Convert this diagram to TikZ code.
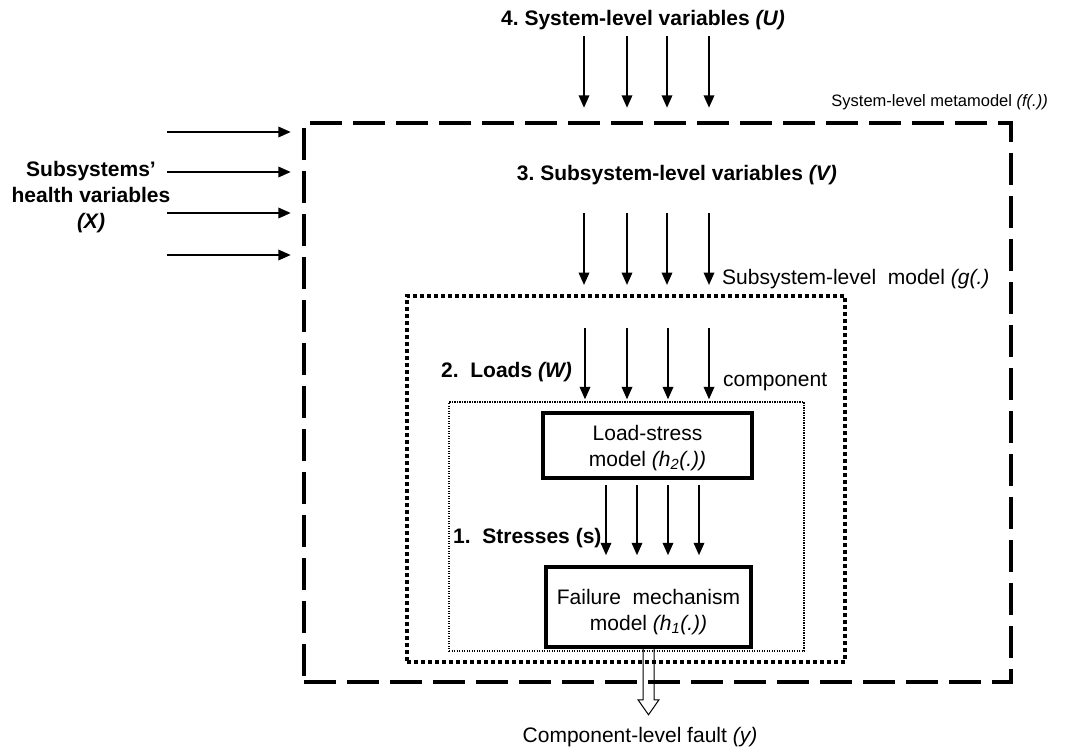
\documentclass[tikz,border=0pt]{standalone}
\usepackage{fontspec}
\setmainfont{Liberation Sans}
\usetikzlibrary{arrows.meta}
\frenchspacing
\begin{document}
\begin{tikzpicture}[x=1pt,y=-1pt,
  lbl/.style={font=\fontsize{21}{26}\selectfont, inner sep=0pt},
  small/.style={font=\fontsize{16.5}{20}\selectfont, inner sep=0pt},
  flow/.style={line width=2pt, -{Triangle[width=10.5pt,length=12.5pt]}},
  sysbox/.style={draw, line width=4.5pt, dash pattern=on 32pt off 11pt, inner sep=0pt},
  subbox/.style={draw, line width=4pt, dash pattern=on 4pt off 3pt, inner sep=0pt},
  compbox/.style={draw, line width=1.3pt, dash pattern=on 1.3pt off 1.2pt, inner sep=0pt},
  modelbox/.style={draw, line width=3.5pt, inner sep=0pt, align=center,
    font=\fontsize{21}{26}\selectfont},
  hollow/.style={line width=1pt, line join=miter}]
\useasboundingbox (0,0) rectangle (1067,748);

% nested model boundaries
\node[sysbox, minimum width=707pt, minimum height=559pt] (sys) at (657.5,402.5) {};
\node[subbox, minimum width=438pt, minimum height=366pt] (sub) at (626,479) {};
\node[compbox, minimum width=355pt, minimum height=249pt] (comp) at (626.5,526.5) {};

% component models (the struts set the first line a little lower)
\node[modelbox, minimum width=209pt, minimum height=65pt] (ls) at (647.5,445.5)
  {\rule{0pt}{19.5pt}Load-stress\\model \textit{(h\textsubscript{2}(.))}};
\node[modelbox, minimum width=205pt, minimum height=80pt] (fail) at (648.5,607)
  {\rule{0pt}{24.5pt}Failure\ \ mechanism\\model \textit{(h\textsubscript{1}(.))}};

% labels
\node[lbl, anchor=base] (tU) at (643,25) {\textbf{4. System-level variables \textit{(U)}}};
\node[small, anchor=base east] (tf) at (1048,106) {System-level metamodel \textit{(f(.))}};
\node[lbl, anchor=base east] (tV) at (837,180) {\textbf{3. Subsystem-level variables \textit{(V)}}};
\node[lbl, anchor=base west] (tg) at (722,284) {Subsystem-level\ \ model \textit{(g(.)}};
\node[lbl, anchor=base west] (tW) at (441,377) {\textbf{2.\ \ Loads \textit{(W)}}};
\node[lbl, anchor=base west] (tc) at (723,386) {component};
\node[lbl, anchor=base west] (ts) at (453,543) {\textbf{1.\ \ Stresses (s)}};
\node[lbl, anchor=base] (ty) at (640,742) {Component-level fault \textit{(y)}};
\node[lbl, align=center, anchor=center] (tX) at (91,197)
  {\textbf{Subsystems’}\\\textbf{health variables}\\\textbf{\textit{(X)}}};

% system-level variables U
\foreach \i/\x in {1/584,2/627,3/667,4/709}{
  \coordinate (u\i) at (\x,36);
  \draw[flow] (u\i) -- ([yshift=13pt]sys.north -| u\i);
}
% subsystem health variables X
\foreach \i/\y in {1/132,2/172,3/213,4/255}{
  \coordinate (x\i) at (167,\y);
  \draw[flow] (x\i) -- ([xshift=-11pt]sys.west |- x\i);
}
% subsystem-level variables V
\foreach \i/\x in {1/584,2/627,3/667,4/709}{
  \coordinate (v\i) at (\x,213);
  \draw[flow] (v\i) -- ([yshift=9pt]sub.north -| v\i);
}
% loads W
\foreach \i/\x in {1/585,2/627,3/668,4/709}{
  \coordinate (w\i) at (\x,328);
  \draw[flow] (w\i) -- ([yshift=2pt]comp.north -| w\i);
}
% stresses s
\foreach \i/\x in {1/606,2/637,3/668,4/699}{
  \coordinate (s\i) at (\x,0);
  \draw[flow] ([yshift=-5pt]ls.south -| s\i) -- ([yshift=10pt]fail.north -| s\i);
}

% component-level fault output
\draw[hollow] ([xshift=-5.5pt]fail.south) -- ++(0,51) -- ++(-5,0) -- ++(10.5,15)
  -- ++(10.5,-15) -- ++(-5,0) -- ++(0,-51);
\end{tikzpicture}
\end{document}
